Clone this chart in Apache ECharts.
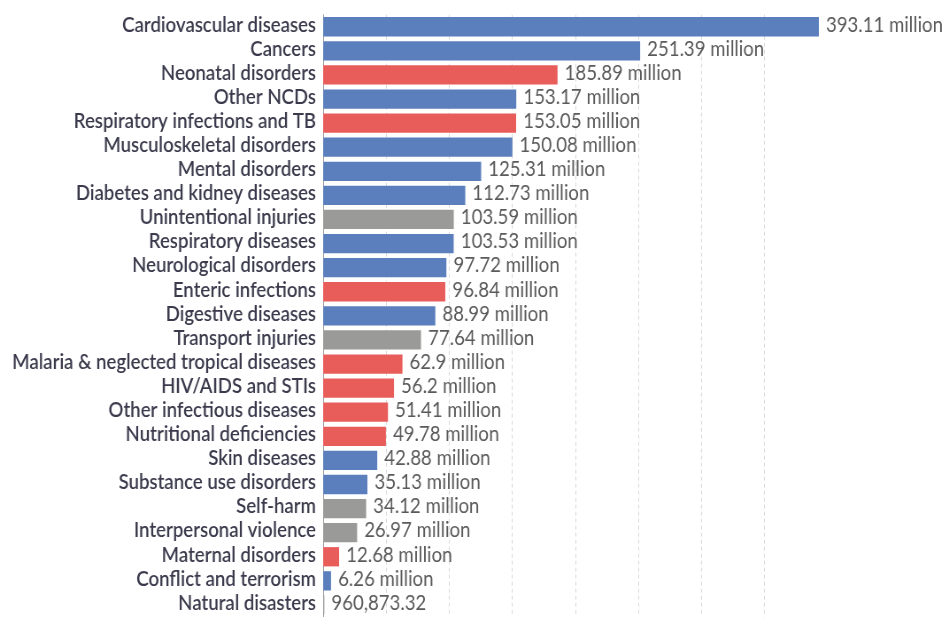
<!DOCTYPE html>
<html>
<head>
<meta charset="utf-8">
<script src="https://cdn.jsdelivr.net/npm/echarts@6/dist/echarts.min.js"></script>
<style>
html,body{margin:0;padding:0;background:#fff;overflow:hidden;}
#wrap{width:949px;height:617px;overflow:hidden;}
#chart{width:1072px;height:617px;transform:scaleX(0.88526);transform-origin:0 0;}
</style>
</head>
<body>
<div id="wrap"><div id="chart"></div></div>
<script>
const categories = [
  "Cardiovascular diseases","Cancers","Neonatal disorders","Other NCDs",
  "Respiratory infections and TB","Musculoskeletal disorders","Mental disorders",
  "Diabetes and kidney diseases","Unintentional injuries","Respiratory diseases",
  "Neurological disorders","Enteric infections","Digestive diseases","Transport injuries",
  "Malaria & neglected tropical diseases","HIV/AIDS and STIs","Other infectious diseases",
  "Nutritional deficiencies","Skin diseases","Substance use disorders","Self-harm",
  "Interpersonal violence","Maternal disorders","Conflict and terrorism","Natural disasters"
];
const values = [
  393110000,251390000,185890000,153170000,153050000,150080000,125310000,
  112730000,103590000,103530000,97720000,96840000,88990000,77640000,
  62900000,56200000,51410000,49780000,42880000,35130000,34120000,
  26970000,12680000,6260000,960873.32
];
const groups = [
  "ncd","ncd","cmnn","ncd","cmnn","ncd","ncd","ncd","inj","ncd","ncd","cmnn","ncd","inj",
  "cmnn","cmnn","cmnn","cmnn","ncd","ncd","inj","inj","cmnn","ncd","inj"
];
const groupColors = {ncd:"#5b7fbd", cmnn:"#e85c5a", inj:"#9a9a98"};

function fmt(v){
  if (v >= 1e6) {
    return parseFloat((v/1e6).toFixed(2)).toString() + " million";
  }
  return v.toLocaleString("en-US",{minimumFractionDigits:2,maximumFractionDigits:2});
}

const chart = echarts.init(document.getElementById('chart'));
chart.setOption({
  animation:false,
  grid:{left:365, top:14.7, height:605.7, width:560},
  xAxis:{
    type:'value', min:0, max:'dataMax', interval:50e6,
    axisLabel:{show:false}, axisLine:{show:false}, axisTick:{show:false},
    splitLine:{show:true, showMinLine:false, showMaxLine:false, lineStyle:{type:[4,3], color:'#d8d8d8', width:1}}
  },
  yAxis:{
    type:'category', inverse:true, data:categories,
    axisLine:{show:true, lineStyle:{color:'#999', width:1}},
    axisTick:{show:false},
    axisLabel:{interval:0, hideOverlap:false, margin:8,
      formatter:v=>'{c|' + v + '}',
      rich:{c:{fontFamily:'Lato', fontSize:21, fontWeight:600, color:'#3a3a4c', padding:[0,0,4,0]}}}
  },
  series:[{
    type:'bar', barCategoryGap:'20%',
    data: values.map((v,i)=>({value:v, itemStyle:{color:groupColors[groups[i]]}})),
    label:{show:true, position:'right', distance:8, offset:[0,-2], fontFamily:'Lato', fontSize:21, color:'#5a5a5a',
      formatter:p=>fmt(p.value)}
  }]
});
</script>
</body>
</html>
